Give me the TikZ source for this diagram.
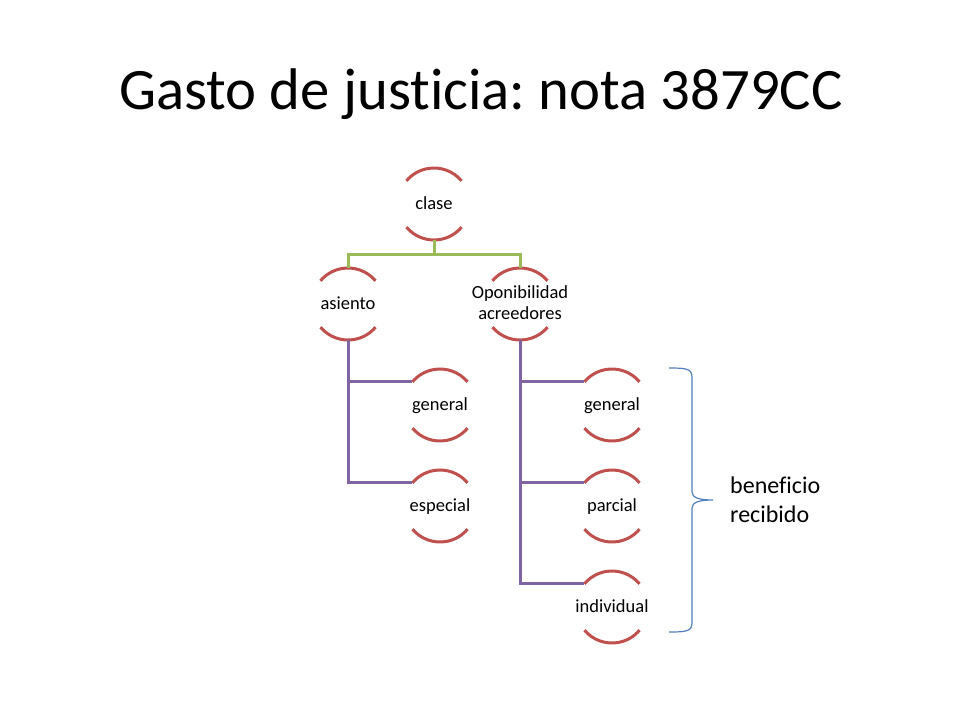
\documentclass[tikz,border=0pt]{standalone}
\usepackage{fontspec}
\setmainfont{Carlito}[Ligatures=CommonOff]
\frenchspacing
\definecolor{arcred}{HTML}{C0504D}
\definecolor{lvgreen}{HTML}{9BBB59}
\definecolor{lvpurple}{HTML}{8064A2}
\definecolor{bracebl}{HTML}{4F81BD}
\tikzset{
  hcirc/.style={circle,minimum size=72pt,inner sep=0pt,outer sep=0pt},
  arcline/.style={draw=arcred,line width=3pt},
  htext/.style={font=\fontsize{18.5}{21}\selectfont,align=center,anchor=base,inner sep=0pt},
  greenline/.style={draw=lvgreen,line width=3pt},
  purpleline/.style={draw=lvpurple,line width=3pt},
  bracestyle/.style={draw=bracebl,line width=1.2pt},
}
\newcommand\hnode[4]{%
  \node[hcirc] (#1) at (#2,#3) {};
  \draw[arcline] ([shift={(40:36pt)}]#1.center) arc[start angle=40,end angle=140,radius=36pt];
  \draw[arcline] ([shift={(220:36pt)}]#1.center) arc[start angle=220,end angle=320,radius=36pt];
  \node[htext] (#1-t) at ([yshift=-5pt]#1.center) {#4};
}
\begin{document}
\begin{tikzpicture}[x=1pt,y=1pt]
\useasboundingbox[fill=white] (0,0) rectangle (960,-720);
\node[font=\fontsize{58.7}{70}\selectfont,anchor=base west,inner sep=0pt] (title) at (119,-109) {Gasto de justicia: nota 3879CC};

\hnode{clase}{434}{-204}{clase}
\hnode{asiento}{348}{-304}{asiento}
\node[hcirc] (opon) at (520,-304) {};
\draw[arcline] ([shift={(40:36pt)}]opon.center) arc[start angle=40,end angle=140,radius=36pt];
\draw[arcline] ([shift={(220:36pt)}]opon.center) arc[start angle=220,end angle=320,radius=36pt];
\node[htext] (opon-t) at (520,-319) {Oponibilidad\\acreedores};
\hnode{gen1}{440}{-405}{general}
\hnode{esp}{440}{-506}{especial}
\hnode{gen2}{612}{-405}{general}
\hnode{parc}{612}{-506}{parcial}
\hnode{indiv}{612}{-607}{individual}

% green connectors
\coordinate (bar) at ([yshift=-14pt]clase.south);
\draw[greenline] (clase.south) -- (bar) -| (asiento.north);
\draw[greenline] (bar) -| (opon.north);

% purple connectors
\draw[purpleline] (asiento.south) |- (gen1.140);
\draw[purpleline] (asiento.south) |- (esp.140);
\draw[purpleline] (opon.south) |- (gen2.140);
\draw[purpleline] (opon.south) |- (parc.140);
\draw[purpleline] (opon.south) |- (indiv.140);

% brace
\draw[bracestyle] (669,-368) .. controls (688,-368) and (692,-369) .. (692,-378)
  -- (692,-492) .. controls (692,-498) and (700,-500) .. (713,-500)
  .. controls (700,-500) and (692,-502) .. (692,-508)
  -- (692,-622) .. controls (692,-631) and (688,-632) .. (669,-632);

\node[font=\fontsize{24}{29}\selectfont,align=left,anchor=base west,inner sep=0pt] (benef) at (730,-522) {beneficio\\recibido};
\end{tikzpicture}
\end{document}
